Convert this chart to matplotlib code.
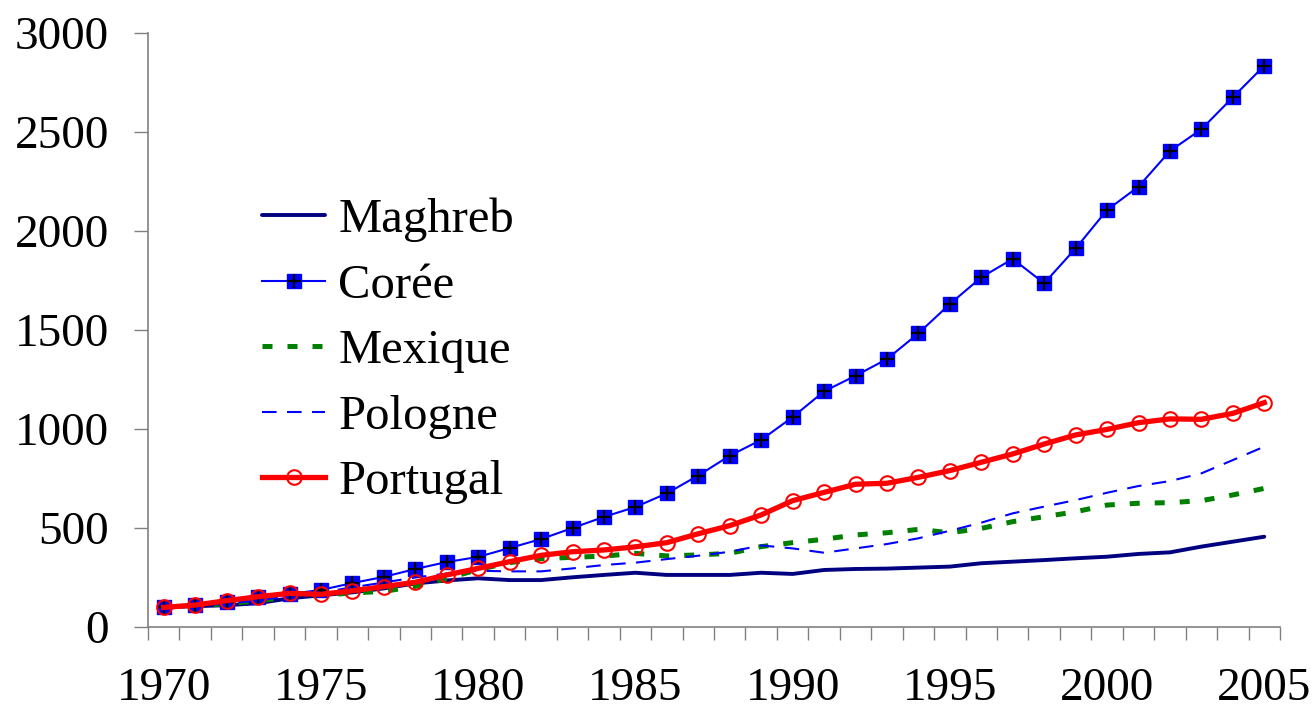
import matplotlib
matplotlib.use("Agg")
import matplotlib.pyplot as plt
import numpy as np
from matplotlib.legend_handler import HandlerTuple
from matplotlib.ticker import MultipleLocator, FixedLocator

plt.rcParams['font.family'] = ['Liberation Serif', 'DejaVu Serif']

years = list(range(1970, 2006))

maghreb = [100, 105, 110, 120, 145, 160, 175, 195, 220, 235,
           246, 237, 237, 251, 263, 274, 263, 263, 263, 274,
           268, 288, 293, 295, 300, 305, 322, 330, 338, 347,
           355, 369, 377, 406, 431, 456]
coree = [101, 111, 126, 152, 167, 187, 222, 253, 293, 328,
         354, 399, 444, 500, 556, 606, 675, 765, 865, 945,
         1060, 1190, 1269, 1353, 1483, 1631, 1766, 1859, 1736, 1912,
         2106, 2224, 2404, 2514, 2675, 2835]
mexique = [100, 107, 117, 133, 150, 160, 172, 180, 205, 245,
           290, 325, 345, 352, 358, 372, 359, 364, 372, 406,
           426, 443, 465, 476, 493, 476, 498, 532, 557, 582,
           616, 625, 628, 638, 667, 700]
pologne = [100, 108, 118, 135, 155, 175, 200, 225, 250, 270,
           284, 281, 281, 296, 313, 325, 343, 360, 380, 412,
           397, 375, 397, 419, 448, 486, 527, 574, 608, 641,
           678, 712, 737, 776, 843, 911]
portugal = [99, 111, 133, 153, 170, 165, 183, 204, 226, 263,
            296, 330, 362, 380, 389, 405, 426, 471, 512, 566,
            638, 680, 721, 726, 756, 790, 832, 874, 924, 970,
            998, 1032, 1051, 1049, 1079, 1133]

labels = ['Maghreb', 'Corée', 'Mexique', 'Pologne', 'Portugal']
year_ticks = [1970, 1975, 1980, 1985, 1990, 1995, 2000, 2005]

fig = plt.figure(figsize=(13.16, 7.17), dpi=100)
ax = fig.add_axes([148/1316, 1-627/717, (1280-148)/1316, (627-33)/717])

l_mag, = ax.plot(years, maghreb, color='#000080', lw=2.8, solid_capstyle='round', zorder=3)
l_mex, = ax.plot(years, mexique, color='#008000', lw=3.6, linestyle=(0, (2.0, 3.0)), zorder=3)
l_pol, = ax.plot(years, pologne, color='#0000FF', lw=1.5, linestyle=(0, (7, 5)), zorder=3)
l_cor, = ax.plot(years, coree, color='#0000FF', lw=1.5, marker='s', markersize=10,
                 markerfacecolor='#0000FF', markeredgecolor='#0000FF', zorder=4)
l_cor2, = ax.plot(years, coree, linestyle='none', marker='+', markersize=10,
                  markeredgecolor='black', markeredgewidth=1.6, zorder=5)
l_por, = ax.plot(years, portugal, color='#FF0000', lw=3.8, marker='o', markersize=10.5,
                 markerfacecolor='none', markeredgecolor='#FF0000', markeredgewidth=1.5, zorder=6)

ax.set_xlim(1969.5, 2005.5)
ax.set_ylim(0, 3000)
for s in ['top', 'right']:
    ax.spines[s].set_visible(False)
for s in ['left', 'bottom']:
    ax.spines[s].set_color('#808080')
    ax.spines[s].set_linewidth(1.2)

ax.yaxis.set_major_locator(MultipleLocator(500))
ax.tick_params(axis='y', direction='out', length=10, width=1, color='#808080',
               labelsize=34, pad=18)
ax.xaxis.set_major_locator(FixedLocator(year_ticks))
ax.set_xticklabels([str(y) for y in year_ticks])
ax.xaxis.set_minor_locator(FixedLocator(np.arange(1969.5, 2006, 1.0)))
ax.tick_params(axis='x', which='major', length=0, labelsize=34, pad=29)
ax.tick_params(axis='x', which='minor', direction='out', length=9, width=1, color='#808080')

handles = [l_mag, (l_cor, l_cor2), l_mex, l_pol, l_por]
leg = fig.legend(handles, labels, loc='upper left',
                 bbox_to_anchor=(262/1316, 1-198/717), frameon=False,
                 fontsize=35, handlelength=1.3, handletextpad=0.27,
                 labelspacing=0.44, borderpad=0, borderaxespad=0,
                 handler_map={tuple: HandlerTuple(ndivide=1, pad=0)})

fig.savefig('out.png', dpi=100)
